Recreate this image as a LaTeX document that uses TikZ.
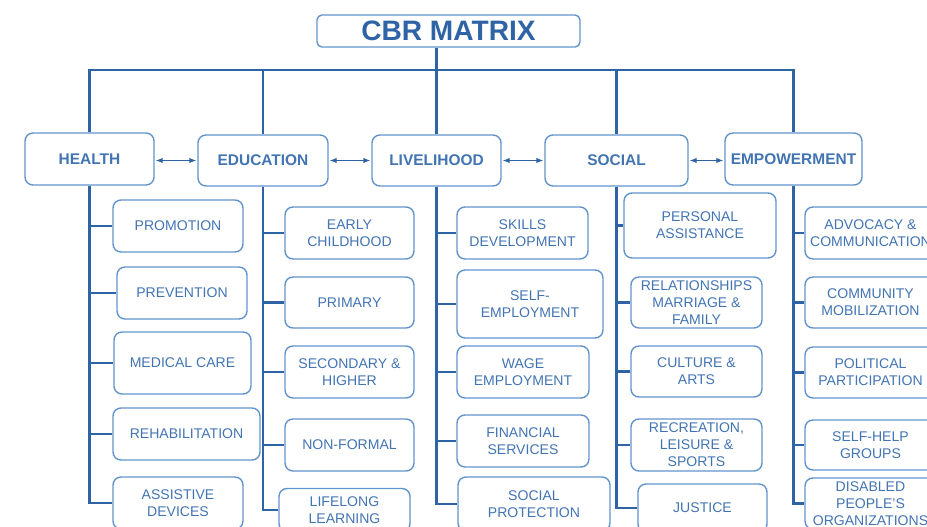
\documentclass[tikz,border=0pt]{standalone}
\usepackage{fontspec}
\setmainfont{Liberation Sans}
\usetikzlibrary{arrows.meta}
\definecolor{cbrline}{RGB}{46,100,166}
\definecolor{cbrtext}{RGB}{66,116,178}
\definecolor{cbrbox}{RGB}{98,148,204}

\begin{document}
\begin{tikzpicture}[x=0.02cm, y=0.02cm]
\tikzstyle{every node}+=[inner sep=0pt, align=center]
\tikzstyle{titlebox}=[draw=cbrbox, line width=0.8pt, rounded corners=2.8pt, text=cbrline, font=\fontsize{16}{18}\selectfont\bfseries]
\tikzstyle{areabox}=[draw=cbrbox, line width=0.8pt, rounded corners=4.5pt, text=cbrtext, font=\fontsize{8.8}{10}\selectfont\bfseries]
\tikzstyle{itembox}=[draw=cbrbox, line width=0.8pt, rounded corners=4.5pt, text=cbrtext, font=\fontsize{8}{9.6}\selectfont]
\tikzstyle{trunk}=[cbrline, line width=1.7pt]
\tikzstyle{link}=[cbrline, line width=0.6pt, shorten <=0.6pt, shorten >=0.6pt, {Latex[length=1.4mm,width=1.1mm]}-{Latex[length=1.4mm,width=1.1mm]}]
\path[use as bounding box] (0,0) rectangle (927,-527);
\clip (0,0) rectangle (927,-527);
\node[titlebox, minimum width=5.26cm, minimum height=0.64cm] (cbr) at (448.5,-31) {CBR MATRIX};
\coordinate (bus) at (0,-70);
\node[areabox, minimum width=2.58cm, minimum height=1.04cm] (health) at (89.5,-159) {HEALTH};
\node[areabox, minimum width=2.60cm, minimum height=1.02cm] (education) at (263,-160.5) {EDUCATION};
\node[areabox, minimum width=2.58cm, minimum height=1.02cm] (livelihood) at (436.5,-160.5) {LIVELIHOOD};
\node[areabox, minimum width=2.86cm, minimum height=1.02cm] (social) at (616.5,-160.5) {SOCIAL};
\node[areabox, minimum width=2.74cm, minimum height=1.04cm] (empowerment) at (793.5,-159) {EMPOWERMENT};
\node[itembox, minimum width=2.60cm, minimum height=1.04cm] (promotion) at (178,-226) {PROMOTION};
\node[itembox, minimum width=2.60cm, minimum height=1.04cm] (prevention) at (182,-293) {PREVENTION};
\node[itembox, minimum width=2.74cm, minimum height=1.24cm] (medical) at (182.5,-363) {MEDICAL CARE};
\node[itembox, minimum width=2.94cm, minimum height=1.04cm] (rehab) at (186.5,-434) {REHABILITATION};
\node[itembox, minimum width=2.60cm, minimum height=1.04cm] (assistive) at (178,-503) {ASSISTIVE\\DEVICES};
\node[itembox, minimum width=2.58cm, minimum height=1.04cm] (early) at (349.5,-233) {EARLY\\CHILDHOOD};
\node[itembox, minimum width=2.58cm, minimum height=1.02cm] (primary) at (349.5,-302.5) {PRIMARY};
\node[itembox, minimum width=2.58cm, minimum height=1.04cm] (secondary) at (349.5,-372) {SECONDARY \&\\HIGHER};
\node[itembox, minimum width=2.58cm, minimum height=1.04cm] (nonformal) at (349.5,-445) {NON-FORMAL};
\node[itembox, minimum width=2.62cm, minimum height=0.86cm] (lifelong) at (344.5,-510) {LIFELONG\\LEARNING};
\node[itembox, minimum width=2.62cm, minimum height=1.04cm] (skills) at (522.5,-233) {SKILLS\\DEVELOPMENT};
\node[itembox, minimum width=2.92cm, minimum height=1.36cm] (selfemp) at (530,-304) {SELF-\\EMPLOYMENT};
\node[itembox, minimum width=2.64cm, minimum height=1.04cm] (wage) at (523,-372) {WAGE\\EMPLOYMENT};
\node[itembox, minimum width=2.64cm, minimum height=1.04cm] (financial) at (523,-441) {FINANCIAL\\SERVICES};
\node[itembox, minimum width=3.04cm, minimum height=1.08cm] (protection) at (534,-504) {SOCIAL\\PROTECTION};
\node[itembox, minimum width=3.04cm, minimum height=1.30cm] (personal) at (700,-225.5) {PERSONAL\\ASSISTANCE};
\node[itembox, minimum width=2.62cm, minimum height=1.02cm] (relations) at (696.5,-302.5) {RELATIONSHIPS\\MARRIAGE \&\\FAMILY};
\node[itembox, minimum width=2.62cm, minimum height=1.02cm] (culture) at (696.5,-371.5) {CULTURE \&\\ARTS};
\node[itembox, minimum width=2.62cm, minimum height=1.04cm] (recreation) at (696.5,-445) {RECREATION,\\LEISURE \&\\SPORTS};
\node[itembox, minimum width=2.58cm, minimum height=0.96cm] (justice) at (702.5,-508) {JUSTICE};
\node[itembox, minimum width=2.62cm, minimum height=1.04cm] (advocacy) at (870.5,-233) {ADVOCACY \&\\COMMUNICATION};
\node[itembox, minimum width=2.62cm, minimum height=1.02cm] (community) at (870.5,-302.5) {COMMUNITY\\MOBILIZATION};
\node[itembox, minimum width=2.62cm, minimum height=1.02cm] (political) at (870.5,-372.5) {POLITICAL\\PARTICIPATION};
\node[itembox, minimum width=2.62cm, minimum height=1.00cm] (selfhelp) at (870.5,-445) {SELF-HELP\\GROUPS};
\node[itembox, minimum width=2.62cm, minimum height=1.02cm] (dpo) at (870.5,-503.5) {DISABLED\\PEOPLE'S\\ORGANIZATIONS};
\draw[trunk] (health.north) -- (health.north |- bus) -- (empowerment.north |- bus) -- (empowerment.north);
\draw[trunk] (cbr.south -| livelihood.north) -- (livelihood.north);
\draw[trunk] (education.north |- bus) -- (education.north);
\draw[trunk] (social.north |- bus) -- (social.north);
\draw[link] (health.east |- education.west) -- (education.west);
\draw[link] (education.east) -- (livelihood.west);
\draw[link] (livelihood.east) -- (social.west);
\draw[link] (social.east) -- (empowerment.west |- social.east);
\draw[trunk] (health.south) |- (promotion.west);
\draw[trunk] (health.south) |- (prevention.west);
\draw[trunk] (health.south) |- (medical.west);
\draw[trunk] (health.south) |- (rehab.west);
\draw[trunk] (health.south) |- (assistive.west);
\draw[trunk] (education.south) |- (early.west);
\draw[trunk] (education.south) |- (primary.west);
\draw[trunk] (education.south) |- (secondary.west);
\draw[trunk] (education.south) |- (nonformal.west);
\draw[trunk] (education.south) |- (lifelong.west);
\draw[trunk] (livelihood.south) |- (skills.west);
\draw[trunk] (livelihood.south) |- (selfemp.west);
\draw[trunk] (livelihood.south) |- (wage.west);
\draw[trunk] (livelihood.south) |- (financial.west);
\draw[trunk] (livelihood.south) |- (protection.west);
\draw[trunk] (social.south) |- (personal.west);
\draw[trunk] (social.south) |- (relations.west);
\draw[trunk] (social.south) |- (culture.west);
\draw[trunk] (social.south) |- (recreation.west);
\draw[trunk] (social.south) |- (justice.west);
\draw[trunk] (empowerment.south) |- (advocacy.west);
\draw[trunk] (empowerment.south) |- (community.west);
\draw[trunk] (empowerment.south) |- (political.west);
\draw[trunk] (empowerment.south) |- (selfhelp.west);
\draw[trunk] (empowerment.south) |- (dpo.west);
\end{tikzpicture}
\end{document}
